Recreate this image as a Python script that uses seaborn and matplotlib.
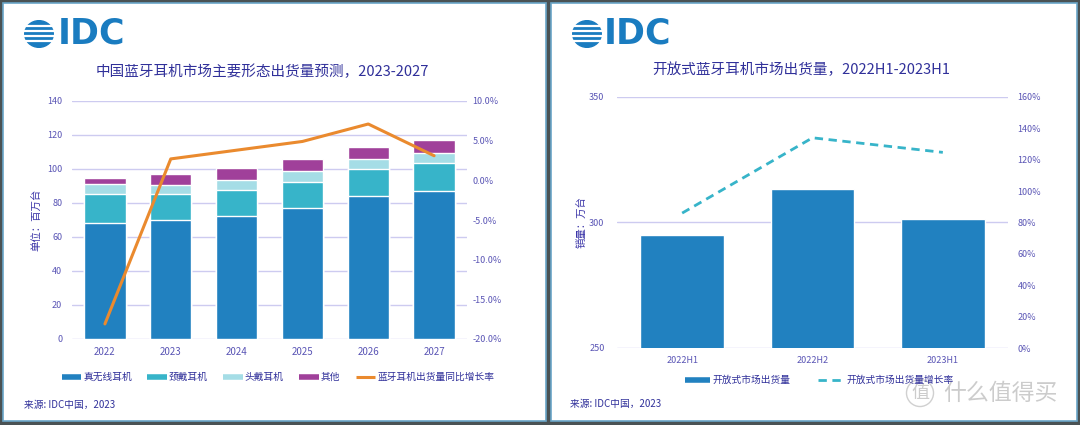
import numpy as np
import pandas as pd
import matplotlib
matplotlib.use("Agg")
import matplotlib.pyplot as plt
from matplotlib.patches import Rectangle, Circle
from matplotlib.lines import Line2D
import seaborn as sns

# =====================================
# Data
# =====================================

years = ["2022", "2023", "2024", "2025", "2026", "2027"]
tws = [68.0, 70.2, 72.6, 77.0, 84.0, 87.1]        # 真无线耳机
neck = [17.0, 15.0, 15.3, 15.4, 16.0, 16.3]       # 颈戴耳机
head = [6.2, 5.1, 5.7, 6.3, 5.8, 5.9]             # 头戴耳机
other = [3.6, 6.8, 7.2, 7.0, 7.3, 7.6]            # 其他
growth = [-18.1, 2.7, 3.8, 4.9, 7.1, 3.1]         # 同比增长率 %

halves = ["2022H1", "2022H2", "2023H1"]
open_ship = [295.2, 313.5, 301.4]                 # 开放式市场出货量 (万台)
open_growth = [86.0, 134.0, 124.7]                # 增长率 %

# =====================================
# Style
# =====================================

sns.set_theme(style="white")
plt.rcParams["font.family"] = ["Noto Sans CJK SC", "DejaVu Sans"]

C_TWS = "#2181c0"
C_NECK = "#37b4c9"
C_HEAD = "#a5dde6"
C_OTHER = "#a0409a"
C_ORANGE = "#ea8a2e"
C_GRID = "#cdcbf0"
C_TICK = "#5a55b5"
C_TITLE = "#30309a"
C_IDC = "#1a7cc0"

W, H = 1080, 425


def fx(px):
    return px / W


def fy(py):
    return 1 - py / H


fig = plt.figure(figsize=(10.8, 4.25), dpi=100, facecolor="#4a5254")

# panels
for x0, x1 in [(3, 546), (551, 1077)]:
    fig.add_artist(Rectangle(
        (fx(x0), fy(421)), fx(x1 - x0), (418) / H,
        transform=fig.transFigure, facecolor="white",
        edgecolor="#6aa6c8", lw=1.2, zorder=-5
    ))


def draw_logo(cx, cy, tx):
    lax = fig.add_axes([fx(cx - 15), fy(cy + 14), fx(30), 28 / H])
    lax.set_xlim(-1.05, 1.05)
    lax.set_ylim(-1.05, 1.05)
    lax.axis("off")
    lax.add_patch(Circle((0, 0), 1, color=C_IDC))
    for yy in [-0.55, -0.15, 0.25, 0.62]:
        lax.axhline(yy, color="white", lw=1.6)
    fig.text(fx(tx), fy(cy), "IDC", fontsize=25, fontweight="bold",
             color=C_IDC, ha="left", va="center", family="DejaVu Sans")


def style_axis(ax):
    for s in ax.spines.values():
        s.set_visible(False)
    ax.tick_params(axis="both", length=0, colors=C_TICK, labelsize=6.5)
    ax.set_xlabel("")


# =====================================
# Left chart
# =====================================

draw_logo(39, 34, 58)
fig.text(fx(262), fy(72), "中国蓝牙耳机市场主要形态出货量预测，2023-2027",
         fontsize=10.5, color=C_TITLE, ha="center", va="center")

ax = fig.add_axes([fx(72), fy(339), fx(395), 238 / H])
ax.set_facecolor("none")

df = pd.DataFrame({"year": years, "tws": tws, "neck": neck,
                   "head": head, "other": other})
df["c1"] = df["tws"]
df["c2"] = df["c1"] + df["neck"]
df["c3"] = df["c2"] + df["head"]
df["c4"] = df["c3"] + df["other"]

for col, color in [("c4", C_OTHER), ("c3", C_HEAD),
                   ("c2", C_NECK), ("c1", C_TWS)]:
    sns.barplot(data=df, x="year", y=col, color=color, saturation=1,
                width=0.63, ax=ax, zorder=2)

ax.set_ylim(0, 140)
ax.set_yticks(range(0, 141, 20))
ax.set_xlim(-0.5, 5.5)
ax.grid(axis="y", color=C_GRID, lw=1, zorder=0)
ax.set_axisbelow(True)
style_axis(ax)
ax.tick_params(axis="y", pad=7)
ax.tick_params(axis="x", pad=6, labelsize=7)
ax.set_ylabel("单位：百万台", fontsize=7.5, color="#3b35a8", labelpad=4)

ax2 = ax.twinx()
sns.lineplot(x=np.arange(len(years)), y=growth, color=C_ORANGE, lw=2.2,
             ax=ax2, zorder=3)
ax2.set_ylim(-20, 10)
ax2.set_yticks(range(-20, 11, 5))
ax2.set_yticklabels([f"{v:.1f}%" for v in range(-20, 11, 5)])
style_axis(ax2)
ax2.tick_params(axis="y", pad=4)
ax2.set_ylabel("")
ax2.grid(False)

left_handles = [
    Line2D([], [], color=C_TWS, lw=4, solid_capstyle="butt"),
    Line2D([], [], color=C_NECK, lw=4, solid_capstyle="butt"),
    Line2D([], [], color=C_HEAD, lw=4, solid_capstyle="butt"),
    Line2D([], [], color=C_OTHER, lw=4, solid_capstyle="butt"),
    Line2D([], [], color=C_ORANGE, lw=2.2, solid_capstyle="butt"),
]
left_labels = ["真无线耳机", "颈戴耳机", "头戴耳机", "其他", "蓝牙耳机出货量同比增长率"]
fig.legend(left_handles, left_labels, loc="center",
           bbox_to_anchor=(fx(278), fy(377)), ncol=5, frameon=False,
           fontsize=7, labelcolor=C_TITLE, handlelength=2.0,
           handletextpad=0.2, columnspacing=1.6)

fig.text(fx(24), fy(405), "来源: IDC中国，2023", fontsize=7,
         color=C_TITLE, ha="left", va="center")

# =====================================
# Right chart
# =====================================

draw_logo(587, 34, 604)
fig.text(fx(801), fy(70), "开放式蓝牙耳机市场出货量，2022H1-2023H1",
         fontsize=10.5, color=C_TITLE, ha="center", va="center")

bx = fig.add_axes([fx(617), fy(348), fx(391), 251 / H])
bx.set_facecolor("none")
sns.barplot(x=halves, y=open_ship, color=C_TWS, saturation=1,
            width=0.64, ax=bx, zorder=2)
bx.set_ylim(250, 350)
bx.set_yticks([250, 300, 350])
bx.set_xlim(-0.5, 2.5)
bx.grid(axis="y", color=C_GRID, lw=1, zorder=0)
bx.set_axisbelow(True)
style_axis(bx)
bx.tick_params(axis="y", pad=9)
bx.tick_params(axis="x", pad=6)
bx.set_ylabel("销量：万台", fontsize=7.5, color="#3b35a8", labelpad=2)

bx2 = bx.twinx()
sns.lineplot(x=np.arange(len(halves)), y=open_growth, color=C_NECK,
             lw=2, ax=bx2, zorder=3)
bx2.lines[0].set_dashes((3, 2))
bx2.set_ylim(0, 160)
bx2.set_yticks(range(0, 161, 20))
bx2.set_yticklabels([f"{v}%" for v in range(0, 161, 20)])
style_axis(bx2)
bx2.tick_params(axis="y", pad=7)
bx2.set_ylabel("")
bx2.grid(False)

right_handles = [
    Line2D([], [], color=C_TWS, lw=4, solid_capstyle="butt"),
    Line2D([], [], color=C_NECK, lw=2, dashes=(3, 2)),
]
right_labels = ["开放式市场出货量", "开放式市场出货量增长率"]
fig.legend(right_handles, right_labels, loc="center",
           bbox_to_anchor=(fx(819), fy(380)), ncol=2, frameon=False,
           fontsize=7, labelcolor=C_TITLE, handlelength=2.6,
           handletextpad=0.3, columnspacing=2.8)

fig.text(fx(570), fy(404), "来源: IDC中国，2023", fontsize=7,
         color=C_TITLE, ha="left", va="center")

# watermark
fig.text(fx(920), fy(393), "值", fontsize=13, color="#cccccc",
         ha="center", va="center",
         bbox=dict(boxstyle="circle,pad=0.25", fc="none", ec="#d0d0d0", lw=1))
fig.text(fx(943), fy(393), "什么值得买", fontsize=16.5, color="#cccccc",
         ha="left", va="center")

fig.savefig("out.png", dpi=100, facecolor=fig.get_facecolor())
